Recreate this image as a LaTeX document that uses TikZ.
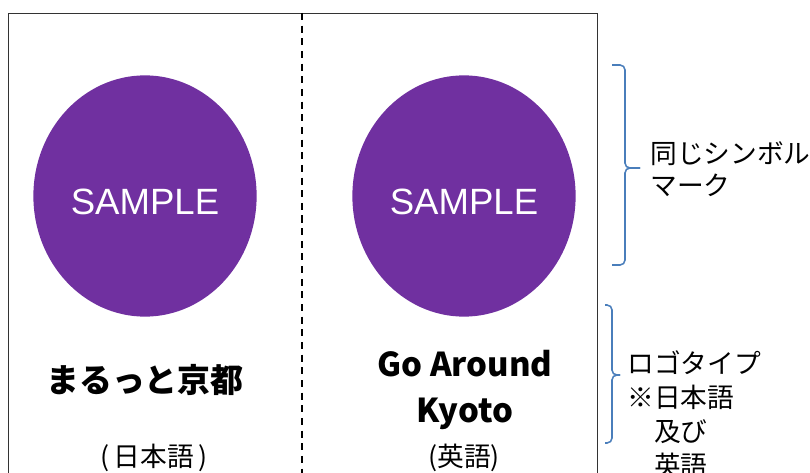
\documentclass[tikz,border=0pt]{standalone}
\usepackage{fontspec}
\setmainfont{Liberation Sans}
\newfontfamily\jpfont{Noto Sans CJK JP}
\usetikzlibrary{shapes.geometric}
\definecolor{markpurple}{HTML}{7030A0}
\definecolor{braceblue}{HTML}{4A7EBB}

\begin{document}
\begin{tikzpicture}[x=0.025cm,y=-0.025cm,
  symbolmark/.style={ellipse,fill=markpurple,text=white,inner sep=0pt,
    text height=0.91cm,text depth=0pt,
    minimum width=5.58cm,minimum height=6.03cm,font=\fontsize{26}{30}\selectfont},
  logo/.style={font=\jpfont\bfseries\fontsize{23.4}{32.6}\selectfont,align=center},
  lang/.style={font=\jpfont\fontsize{19}{22}\selectfont},
  note/.style={font=\jpfont\fontsize{19}{22.7}\selectfont,align=left,anchor=west,inner sep=0pt},
  bracket/.style={draw=braceblue,line width=1.1pt,rounded corners=3.5pt}]
  \useasboundingbox (0,0) rectangle (810,473);
  % frame and divider
  \draw[black!80,line width=0.7pt] (8,480) -- (8,13) -- (597,13) -- (597,480);
  \draw[line width=1.2pt,dash pattern=on 5pt off 4pt] (302,13) -- (302,480);
  % symbol marks
  \node[symbolmark] (markjp) at (145,196) {SAMPLE};
  \node[symbolmark] (markeng) at (464,196) {SAMPLE};
  % logotypes
  \node[logo] (logojp) at (145,380) {まるっと京都};
  \node[logo] (logoeng) at (465,390) {Go Around\\Kyoto};
  \node[lang] (langjp) at (154,458) {(\,日本語\,)};
  \node[lang] (langeng) at (464,458) {(英語)};
  % braces
  \draw[bracket] (612,65) -- (625,65) -- (625,168) -- (640,168);
  \draw[bracket] (640,168) -- (625,168) -- (625,265) -- (612,265);
  \draw[bracket] (605,305) -- (612,305) -- (612,375) -- (620,375);
  \draw[bracket] (620,375) -- (612,375) -- (612,443) -- (605,443);
  \node[note] (notemark) at (650,169) {同じシンボル\\マーク};
  \node[note,font=\jpfont\fontsize{19}{24.3}\selectfont] (notelogo) at (627,414)
    {ロゴタイプ\\※日本語\\　及び\\　英語};
\end{tikzpicture}
\end{document}
